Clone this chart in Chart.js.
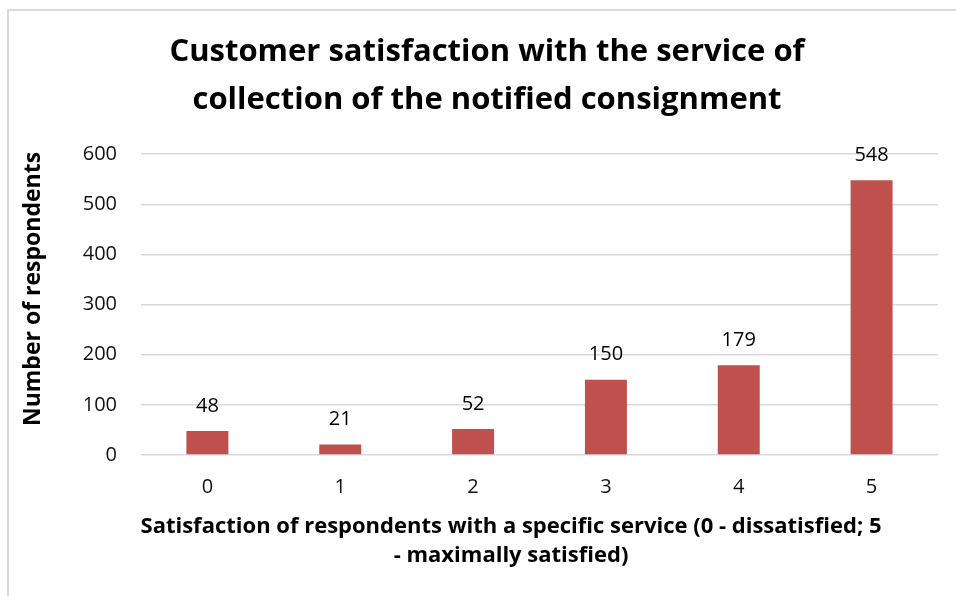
<!DOCTYPE html>
<html><head><meta charset="utf-8">
<script src="https://cdn.jsdelivr.net/npm/chart.js@4.4.1/dist/chart.umd.min.js"></script>
<style>
html,body{margin:0;padding:0;background:#fff;overflow:hidden;width:956px;height:596px;}
#frame{position:absolute;left:7px;top:9px;width:1000px;height:1000px;border-left:2px solid #d9d9d9;border-top:2px solid #d9d9d9;}
#wrap{position:absolute;left:0;top:0;width:956px;height:596px;}
</style></head><body>
<div id="frame"></div>
<div id="wrap"><canvas id="c" width="956" height="596"></canvas></div>
<script>
const categories = ['0', '1', '2', '3', '4', '5'];
const respondents = [48, 21, 52, 150, 179, 548];
const yTickValues = [0, 100, 200, 300, 400, 500, 600];
const chartTitle = ['Customer satisfaction with the service of', 'collection of the notified consignment'];
const xTitle = ['Satisfaction of respondents with a specific service (0 - dissatisfied; 5', '- maximally satisfied)'];
const yTitle = 'Number of respondents';

const FONT = '"Open Sans", sans-serif';

const labelsPlugin = {
  id: 'barLabels',
  afterDatasetsDraw(chart) {
    const ctx = chart.ctx;
    const meta = chart.getDatasetMeta(0);
    ctx.save();
    ctx.font = '20px ' + FONT;
    ctx.fillStyle = '#000';
    ctx.textAlign = 'center';
    ctx.textBaseline = 'middle';
    meta.data.forEach((bar, i) => ctx.fillText(String(respondents[i]), bar.x, bar.y - 25));
    ctx.restore();
  }
};

const axisTitlesPlugin = {
  id: 'axisTitles',
  afterDraw(chart) {
    const ctx = chart.ctx;
    ctx.save();
    ctx.fillStyle = '#000';
    ctx.textAlign = 'center';
    ctx.textBaseline = 'middle';
    ctx.font = 'bold 22px ' + FONT;
    xTitle.forEach((t, i) => ctx.fillText(t, 511, 527 + i * 29));
    ctx.font = 'bold 23px ' + FONT;
    ctx.translate(33, 289);
    ctx.rotate(-Math.PI / 2);
    ctx.fillText(yTitle, 0, 0);
    ctx.restore();
  }
};

new Chart(document.getElementById('c'), {
  type: 'bar',
  data: {
    labels: categories,
    datasets: [{
      data: respondents,
      backgroundColor: '#c0504d',
      barPercentage: 0.316,
      categoryPercentage: 1.0
    }]
  },
  options: {
    responsive: false,
    animation: false,
    layout: { padding: { left: 36, right: 18, top: 0, bottom: 0 } },
    plugins: {
      legend: { display: false },
      tooltip: { enabled: false },
      title: {
        display: true,
        text: chartTitle,
        color: '#000',
        font: { family: FONT, size: 31, weight: 'bold', lineHeight: 1.55 },
        padding: { top: 28, bottom: 30 }
      }
    },
    scales: {
      x: {
        grid: { display: false, drawTicks: false },
        border: { display: false },
        ticks: { color: '#111', font: { family: FONT, size: 20 }, padding: 20 },
        afterFit(scale) { scale.height = 141; }
      },
      y: {
        min: 0,
        max: 600,
        afterBuildTicks(scale) { scale.ticks = yTickValues.map(v => ({ value: v })); },
        grid: { color: '#d9d9d9', lineWidth: 1.5, drawTicks: false },
        border: { display: false },
        ticks: { color: '#111', font: { family: FONT, size: 20 }, padding: 24 },
        afterFit(scale) { scale.width = 105; }
      }
    }
  },
  plugins: [labelsPlugin, axisTitlesPlugin]
});
</script>
</body></html>
